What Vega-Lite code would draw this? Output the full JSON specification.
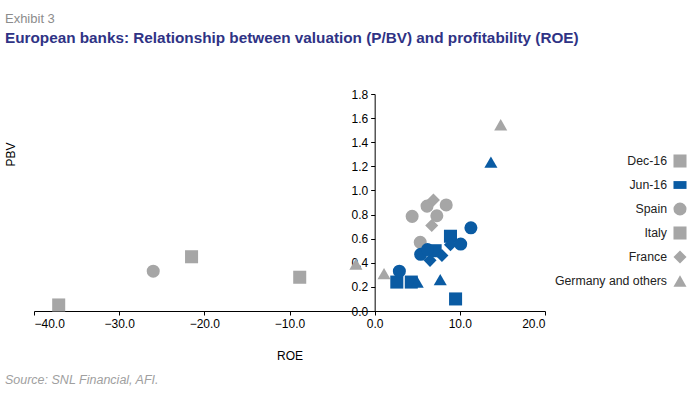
{
  "$schema": "https://vega.github.io/schema/vega-lite/v6.json",
  "background": "white",
  "padding": {"left": 4, "top": 12, "right": 0, "bottom": 8},
  "title": {
    "text": "Source: SNL Financial, AFI.",
    "orient": "bottom",
    "anchor": "start",
    "frame": "bounds",
    "font": "Liberation Sans",
    "fontSize": 12.5,
    "fontStyle": "italic",
    "fontWeight": "normal",
    "color": "#A0A0A0",
    "offset": 13
  },
  "vconcat": [
    {
      "width": 511,
      "height": 217,
      "title": {
        "text": "Exhibit 3",
        "subtitle": "European banks: Relationship between valuation (P/BV) and profitability (ROE)",
        "anchor": "start",
        "frame": "bounds",
        "font": "Liberation Sans",
        "fontSize": 13,
        "fontWeight": "normal",
        "color": "#8C8C8C",
        "subtitleFont": "Liberation Sans",
        "subtitleFontSize": 15.3,
        "subtitleFontWeight": "bold",
        "subtitleColor": "#2F3385",
        "subtitlePadding": 5,
        "offset": 42
      },
      "data": {
        "values": [
          {"period": "Dec-16", "country": "Spain", "roe": -26.0, "pbv": 0.33},
          {"period": "Dec-16", "country": "Spain", "roe": 4.4, "pbv": 0.785},
          {"period": "Dec-16", "country": "Spain", "roe": 6.15, "pbv": 0.87},
          {"period": "Dec-16", "country": "Spain", "roe": 7.3, "pbv": 0.79},
          {"period": "Dec-16", "country": "Spain", "roe": 8.4, "pbv": 0.88},
          {"period": "Dec-16", "country": "Spain", "roe": 5.35, "pbv": 0.57},
          {"period": "Dec-16", "country": "Italy", "roe": -37.1, "pbv": 0.05},
          {"period": "Dec-16", "country": "Italy", "roe": -21.5, "pbv": 0.45},
          {"period": "Dec-16", "country": "Italy", "roe": -8.8, "pbv": 0.28},
          {"period": "Dec-16", "country": "France", "roe": 6.9, "pbv": 0.92},
          {"period": "Dec-16", "country": "France", "roe": 6.7, "pbv": 0.71},
          {"period": "Dec-16", "country": "Germany and others", "roe": 14.8, "pbv": 1.545},
          {"period": "Dec-16", "country": "Germany and others", "roe": 1.1, "pbv": 0.31},
          {"period": "Dec-16", "country": "Germany and others", "roe": -2.2, "pbv": 0.39},
          {"period": "Jun-16", "country": "Italy", "roe": 8.9, "pbv": 0.62},
          {"period": "Jun-16", "country": "Italy", "roe": 2.6, "pbv": 0.24},
          {"period": "Jun-16", "country": "Italy", "roe": 4.3, "pbv": 0.24},
          {"period": "Jun-16", "country": "Italy", "roe": 9.5, "pbv": 0.10},
          {"period": "Jun-16", "country": "Italy", "roe": 7.1, "pbv": 0.50},
          {"period": "Jun-16", "country": "France", "roe": 6.5, "pbv": 0.42},
          {"period": "Jun-16", "country": "France", "roe": 7.9, "pbv": 0.46},
          {"period": "Jun-16", "country": "France", "roe": 8.9, "pbv": 0.55},
          {"period": "Jun-16", "country": "Germany and others", "roe": 13.65, "pbv": 1.235},
          {"period": "Jun-16", "country": "Germany and others", "roe": 7.7, "pbv": 0.26},
          {"period": "Jun-16", "country": "Germany and others", "roe": 5.0, "pbv": 0.24},
          {"period": "Jun-16", "country": "Spain", "roe": 11.3, "pbv": 0.69},
          {"period": "Jun-16", "country": "Spain", "roe": 10.1, "pbv": 0.555},
          {"period": "Jun-16", "country": "Spain", "roe": 5.4, "pbv": 0.47},
          {"period": "Jun-16", "country": "Spain", "roe": 6.2, "pbv": 0.51},
          {"period": "Jun-16", "country": "Spain", "roe": 2.9, "pbv": 0.33}
        ]
      },
      "mark": {"type": "point", "filled": true, "opacity": 1, "size": 170},
      "encoding": {
        "x": {
          "field": "roe",
          "type": "quantitative",
          "scale": {"domain": [-40, 20], "nice": false, "zero": false},
          "axis": {
            "title": "ROE",
            "format": ".1f",
            "values": [-40, -30, -20, -10, 0, 10, 20],
            "grid": false,
            "titlePadding": 21
          }
        },
        "y": {
          "field": "pbv",
          "type": "quantitative",
          "scale": {"domain": [0, 1.8], "nice": false},
          "axis": {
            "title": "PBV",
            "format": ".1f",
            "values": [0, 0.2, 0.4, 0.6, 0.8, 1.0, 1.2, 1.4, 1.6, 1.8],
            "grid": false,
            "offset": -340.67,
            "titleX": -363.7,
            "titleY": 60,
            "titleAngle": -90,
            "titleAlign": "center",
            "titleBaseline": "middle"
          }
        },
        "color": {
          "field": "period",
          "type": "nominal",
          "scale": {
            "domain": ["Dec-16", "Jun-16", "Spain", "Italy", "France", "Germany and others"],
            "range": ["#A6A6A6", "#0A5BA3", "#A6A6A6", "#A6A6A6", "#A6A6A6", "#A6A6A6"]
          },
          "legend": {
            "title": null,
            "orient": "none",
            "legendX": 639,
            "legendY": 60,
            "symbolSize": 170,
            "symbolStrokeWidth": 0,
            "symbolOpacity": 1,
            "labelAlign": "right",
            "labelOffset": -20,
            "labelFontSize": 12.3,
            "labelColor": "#222222",
            "rowPadding": 10,
            "encode": {
              "symbols": {
                "update": {
                  "shape": [
                    {"test": "datum.value === 'Jun-16'", "value": "M-1,-0.6H1V0.6H-1Z"},
                    {"test": "datum.value === 'Spain'", "value": "circle"},
                    {"test": "datum.value === 'France'", "value": "diamond"},
                    {"test": "datum.value === 'Germany and others'", "value": "triangle-up"},
                    {"value": "square"}
                  ]
                }
              }
            }
          }
        },
        "shape": {
          "field": "country",
          "type": "nominal",
          "scale": {
            "domain": ["Spain", "Italy", "France", "Germany and others"],
            "range": ["circle", "square", "diamond", "triangle-up"]
          },
          "legend": null
        }
      }
    }
  ],
  "config": {
    "view": {"stroke": null},
    "font": "Liberation Sans",
    "axis": {
      "domainColor": "#000000",
      "tickColor": "#000000",
      "tickSize": 4,
      "labelFont": "Liberation Sans",
      "labelFontSize": 12,
      "labelColor": "#000000",
      "titleFont": "Liberation Sans",
      "titleFontSize": 12,
      "titleFontWeight": "normal",
      "titleColor": "#000000",
      "labelPadding": 3
    }
  }
}
